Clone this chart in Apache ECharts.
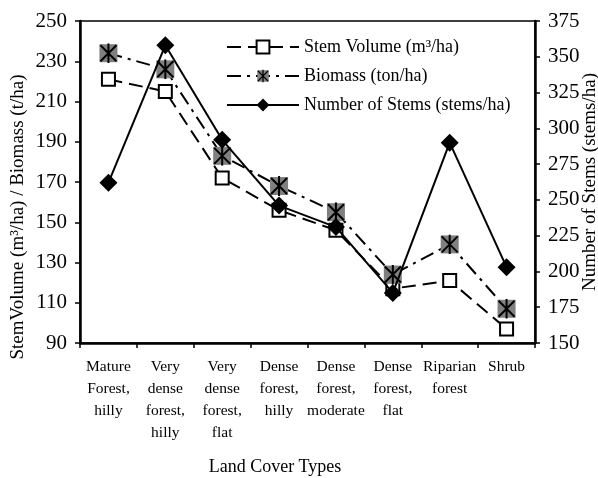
<!DOCTYPE html>
<html>
<head>
<meta charset="utf-8">
<script src="https://cdn.jsdelivr.net/npm/echarts@6/dist/echarts.min.js"></script>
<style>
  html, body { margin: 0; padding: 0; background: #fff; }
  #chart { width: 598px; height: 478px; }
</style>
</head>
<body>
<div id="chart"></div>
<script>
// Land cover classes along the x axis
const categories = [
  'Mature\nForest,\nhilly',
  'Very\ndense\nforest,\nhilly',
  'Very\ndense\nforest,\nflat',
  'Dense\nforest,\nhilly',
  'Dense\nforest,\nmoderate',
  'Dense\nforest,\nflat',
  'Riparian\nforest',
  'Shrub'
];

// Left axis: stem volume (m³/ha) and biomass (t/ha)
const stemVolume = [221, 215, 172, 156, 146, 117, 121, 97];
const biomass = [234, 226, 183, 168, 155, 124, 139, 107];

// Right axis: number of stems (stems/ha)
const stemCount = [262, 358, 292, 246, 231, 185, 290, 203];

// Axis ranges and tick steps
const leftTicks = { min: 90, max: 250, step: 20 };
const rightTicks = { min: 150, max: 375, step: 25 };

const serif = 'Liberation Serif, Times New Roman, serif';

// Grey square with a black asterisk, used as the biomass marker
const biomassSvg =
  "<svg xmlns='http://www.w3.org/2000/svg' width='20' height='20' viewBox='0 0 20 20'>" +
  "<rect x='1' y='1' width='18' height='18' fill='#808080'/>" +
  "<path d='M2 2L18 18M18 2L2 18M10 0V20' stroke='#000' stroke-width='2' fill='none'/>" +
  "</svg>";
const biomassSymbol = 'image://data:image/svg+xml;base64,' + btoa(biomassSvg);

const chart = echarts.init(document.getElementById('chart'), null, { renderer: 'canvas' });

chart.setOption({
  backgroundColor: '#ffffff',
  animation: false,
  textStyle: { fontFamily: serif, color: '#000' },
  grid: {
    left: 80, right: 63, top: 21, bottom: 135,
    containLabel: false,
    outerBoundsMode: 'none',
    show: true, borderColor: '#000', borderWidth: 1.5, backgroundColor: 'transparent'
  },
  legend: {
    orient: 'vertical',
    left: 221, top: 33,
    itemWidth: 72, itemHeight: 16, itemGap: 11,
    textStyle: { fontFamily: serif, fontSize: 18, color: '#000' },
    data: ['Stem Volume (m³/ha)', 'Biomass (ton/ha)', 'Number of Stems (stems/ha)']
  },
  xAxis: {
    type: 'category',
    data: categories,
    boundaryGap: true,
    name: 'Land Cover Types',
    nameLocation: 'middle',
    nameGap: 115,
    nameMoveOverlap: false,
    nameTextStyle: { fontFamily: serif, fontSize: 18, color: '#000', padding: [0, 65, 0, 0] },
    axisLine: { lineStyle: { color: '#000', width: 2.5 } },
    axisTick: { show: true, length: 5, lineStyle: { color: '#000', width: 1.5 } },
    axisLabel: { interval: 0, margin: 13, fontFamily: serif, fontSize: 15.5, lineHeight: 22, color: '#000' }
  },
  yAxis: [
    {
      type: 'value',
      min: leftTicks.min, max: leftTicks.max, interval: leftTicks.step,
      name: 'StemVolume (m³/ha) / Biomass (t/ha)',
      nameLocation: 'middle',
      nameGap: 52,
      nameRotate: 90,
      nameMoveOverlap: false,
      nameTextStyle: { fontFamily: serif, fontSize: 19, color: '#000', padding: [0, 70, 0, 0] },
      axisLine: { show: true, lineStyle: { color: '#000', width: 2.5 } },
      axisTick: { show: true, length: 5, lineStyle: { color: '#000', width: 1.5 } },
      axisLabel: { margin: 13, fontFamily: serif, fontSize: 21, color: '#000' },
      splitLine: { show: false }
    },
    {
      type: 'value',
      min: rightTicks.min, max: rightTicks.max, interval: rightTicks.step,
      name: 'Number of Stems (stems/ha)',
      nameLocation: 'middle',
      nameGap: 46,
      nameRotate: 90,
      nameMoveOverlap: false,
      nameTextStyle: { fontFamily: serif, fontSize: 19, color: '#000' },
      axisLine: { show: true, lineStyle: { color: '#000', width: 2.5 } },
      axisTick: { show: true, length: 5, lineStyle: { color: '#000', width: 1.5 } },
      axisLabel: { margin: 13, fontFamily: serif, fontSize: 21, color: '#000' },
      splitLine: { show: false }
    }
  ],
  series: [
    {
      name: 'Stem Volume (m³/ha)',
      type: 'line',
      yAxisIndex: 0,
      data: stemVolume,
      symbol: 'rect',
      symbolSize: 13,
      itemStyle: { color: '#fff', borderColor: '#000', borderWidth: 2 },
      lineStyle: { color: '#000', width: 2, type: [14, 7] },
      z: 2
    },
    {
      name: 'Biomass (ton/ha)',
      type: 'line',
      yAxisIndex: 0,
      data: biomass,
      symbol: biomassSymbol,
      symbolSize: 20,
      itemStyle: { color: '#808080' },
      lineStyle: { color: '#000', width: 2, type: [14, 6, 3, 6] },
      z: 3
    },
    {
      name: 'Number of Stems (stems/ha)',
      type: 'line',
      yAxisIndex: 1,
      data: stemCount,
      symbol: 'diamond',
      symbolSize: 18,
      itemStyle: { color: '#000' },
      lineStyle: { color: '#000', width: 2, type: 'solid' },
      z: 4
    }
  ]
});
</script>
</body>
</html>
